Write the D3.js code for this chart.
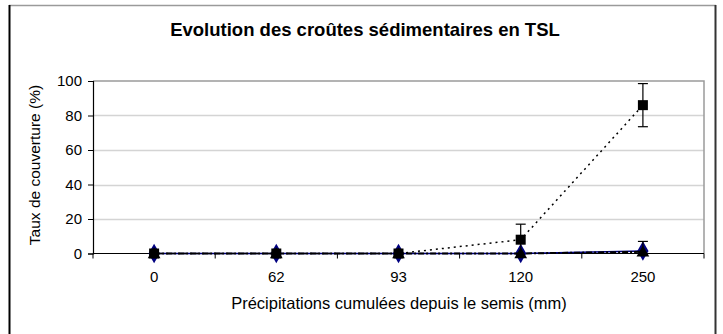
<!DOCTYPE html>
<html>
<head>
<meta charset="utf-8">
<script src="https://cdn.jsdelivr.net/npm/d3@7"></script>
<style>
  html, body { margin: 0; padding: 0; background: #fff; }
  svg { display: block; font-family: Arial, "Liberation Sans", sans-serif; }
</style>
</head>
<body>
<svg id="chart" width="723" height="334"></svg>
<script>
// Cumulative rainfall since sowing (mm), one category per sampling date
const categories = ["0", "62", "93", "120", "250"];

// Sedimentary crust cover (%) and error bar half-widths
const squareValues = [0, 0, 0, 8, 86];
const squareErrors = [0, 0, 0, 9, 12.5];
const diamondValues = [0, 0, 0, 0, 1.5];
const triangleValues = [0, 0, 0, 0, 1];
const triangleErrors = [0, 0, 0, 0, 6];

const yTicks = [0, 20, 40, 60, 80, 100];

const svg = d3.select("#chart");
const plot = { left: 93, right: 704, top: 81, bottom: 253.5 };

// outer frame
svg.append("line").attr("x1", 9).attr("x2", 716).attr("y1", 5.5).attr("y2", 5.5)
  .attr("stroke", "#9a9a9a").attr("stroke-width", 1.5);
svg.append("line").attr("x1", 9.5).attr("x2", 9.5).attr("y1", 5).attr("y2", 334)
  .attr("stroke", "#000").attr("stroke-width", 2);
svg.append("line").attr("x1", 715.5).attr("x2", 715.5).attr("y1", 5).attr("y2", 334)
  .attr("stroke", "#333").attr("stroke-width", 2);

const x = d3.scaleBand().domain(categories).range([plot.left, plot.right]);
const y = d3.scaleLinear().domain([0, 100]).range([plot.bottom, plot.top]);
const cx = c => x(c) + x.bandwidth() / 2;

// gridlines
svg.append("g").selectAll("line").data(yTicks.filter(t => t > 0 && t < 100)).join("line")
  .attr("x1", plot.left).attr("x2", plot.right)
  .attr("y1", d => Math.round(y(d)) + 0.5).attr("y2", d => Math.round(y(d)) + 0.5)
  .attr("stroke", "#d4d4d4").attr("stroke-width", 1.5);

// plot area border (top and right)
svg.append("path")
  .attr("d", `M${plot.left},${y(100)}H${plot.right}V${plot.bottom}`)
  .attr("fill", "none").attr("stroke", "#9a9a9a").attr("stroke-width", 1.5);

// y axis
const yAxis = svg.append("g").attr("transform", `translate(${plot.left},0)`)
  .call(d3.axisLeft(y).tickValues(yTicks).tickSize(5).tickPadding(6));
yAxis.select(".domain").attr("stroke", "#000").attr("stroke-width", 1.2);
yAxis.selectAll(".tick line").attr("stroke", "#000");
yAxis.selectAll("text").attr("font-size", 15).attr("fill", "#000")
  .attr("font-family", "Arial, 'Liberation Sans', sans-serif");

// x axis with tick marks between categories
const xAxisG = svg.append("g").attr("transform", `translate(0,${plot.bottom})`);
xAxisG.append("line").attr("x1", plot.left).attr("x2", plot.right)
  .attr("stroke", "#000").attr("stroke-width", 1.2);
const bounds = categories.map(c => x(c)).concat([plot.right]);
xAxisG.selectAll(".tk").data(bounds).join("line").attr("class", "tk")
  .attr("x1", d => d).attr("x2", d => d).attr("y1", 0).attr("y2", 5)
  .attr("stroke", "#000");
xAxisG.selectAll("text").data(categories).join("text")
  .attr("x", d => cx(d)).attr("y", 28.5).attr("text-anchor", "middle")
  .attr("font-size", 15).text(d => d);

// title and axis titles
svg.append("text").attr("x", 365).attr("y", 36).attr("text-anchor", "middle")
  .attr("font-size", 18.5).attr("font-weight", "bold").text("Evolution des croûtes sédimentaires en TSL");
svg.append("text").attr("x", 399).attr("y", 309).attr("text-anchor", "middle")
  .attr("font-size", 16.5).text("Précipitations cumulées depuis le semis (mm)");
svg.append("text").attr("transform", "translate(40,165) rotate(-90)").attr("text-anchor", "middle")
  .attr("font-size", 15.5).text("Taux de couverture (%)");

const line = d3.line().x((d, i) => cx(categories[i])).y(d => y(d));

// diamond series (navy)
svg.append("path").datum(diamondValues).attr("d", line)
  .attr("fill", "none").attr("stroke", "#000080").attr("stroke-width", 1.5);
svg.append("g").selectAll("path").data(diamondValues).join("path")
  .attr("transform", (d, i) => `translate(${cx(categories[i])},${y(d)})`)
  .attr("d", d3.symbol(d3.symbolDiamond, 110)).attr("fill", "#000080");

// triangle series
svg.append("path").datum(triangleValues).attr("d", line)
  .attr("fill", "none").attr("stroke", "#000").attr("stroke-width", 2)
  .attr("stroke-dasharray", "6,2,2,2");
function errorBars(vals, errs) {
  const g = svg.append("g").attr("stroke", "#000").attr("stroke-width", 1.2);
  vals.forEach((v, i) => {
    if (!errs[i]) return;
    const xc = cx(categories[i]);
    const top = y(v + errs[i]);
    const bot = y(Math.max(0, v - errs[i]));
    g.append("line").attr("x1", xc).attr("x2", xc).attr("y1", top).attr("y2", bot);
    g.append("line").attr("x1", xc - 5).attr("x2", xc + 5).attr("y1", top).attr("y2", top);
    if (v - errs[i] > 0) g.append("line").attr("x1", xc - 5).attr("x2", xc + 5).attr("y1", bot).attr("y2", bot);
  });
}
errorBars(triangleValues, triangleErrors);
svg.append("g").selectAll("path").data(triangleValues).join("path")
  .attr("transform", (d, i) => `translate(${cx(categories[i])},${y(d) + 1})`)
  .attr("d", d3.symbol(d3.symbolTriangle, 70)).attr("fill", "#000");

// square series with dotted line
svg.append("path").datum(squareValues).attr("d", line)
  .attr("fill", "none").attr("stroke", "#000").attr("stroke-width", 1.5)
  .attr("stroke-dasharray", "2,4");
errorBars(squareValues, squareErrors);
svg.append("g").selectAll("rect").data(squareValues).join("rect")
  .attr("x", (d, i) => cx(categories[i]) - 5).attr("y", d => y(d) - 5)
  .attr("width", 10).attr("height", 10).attr("fill", "#000");
</script>
</body>
</html>
